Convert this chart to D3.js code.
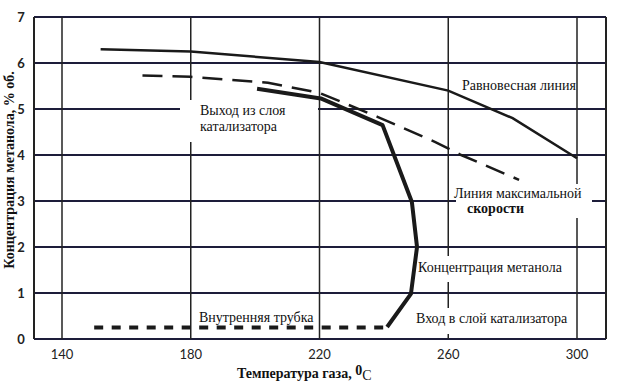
<!DOCTYPE html>
<html lang="ru">
<meta charset="utf-8">
<head>
<title>Концентрация метанола</title>
<script src="https://d3js.org/d3.v7.min.js"></script>
<style>
  body { margin: 0; background: #fff; }
  .lbl { font-family: "Liberation Serif", "Times New Roman", serif; font-size: 14px; fill: #111; }
  .tick { font-family: Lato, "DejaVu Sans", sans-serif; font-size: 13px; fill: #222; }
  .title { font-family: "Liberation Serif", serif; font-size: 14px; font-weight: bold; fill: #111; }
</style>
</head>
<body>
<script>
var width = 625, height = 385;

// x ticks / y ticks
var xTicks = [140, 180, 220, 260, 300];
var yTicks = [0, 1, 2, 3, 4, 5, 6, 7];

// равновесная линия
var eqT = [152, 180, 220, 260, 280, 300];
var eqC = [6.30, 6.25, 6.02, 5.40, 4.80, 3.93];

// линия максимальной скорости
var maxT = [165, 180, 204, 220, 238, 256, 264, 282];
var maxC = [5.73, 5.70, 5.57, 5.35, 4.83, 4.28, 4.00, 3.46];

// концентрация метанола
var concT = [200.6, 220.4, 239.6, 248.7, 250.3, 248.4, 241];
var concC = [5.44, 5.23, 4.65, 2.98, 2.00, 0.98, 0.26];

// внутренняя трубка
var tubeT = [150, 240];
var tubeC = [0.25, 0.25];

var x = d3.scaleLinear().domain([140, 300]).range([62, 577]);
var y = d3.scaleLinear().domain([0, 7]).range([339, 17]);
var left = 34, right = 606;

var svg = d3.select("body").append("svg")
    .attr("width", width)
    .attr("height", height);

// grid
svg.selectAll(".hgrid").data(yTicks).enter().append("line")
    .attr("x1", left).attr("x2", right)
    .attr("y1", function(d) { return y(d); })
    .attr("y2", function(d) { return y(d); })
    .style("stroke", "#1d1d3a").style("stroke-width", 2);

svg.selectAll(".vgrid").data(xTicks).enter().append("line")
    .attr("x1", function(d) { return x(d); })
    .attr("x2", function(d) { return x(d); })
    .attr("y1", y(7)).attr("y2", y(0))
    .style("stroke", "#222").style("stroke-width", 1.5);

// frame sides
svg.append("line").attr("x1", left).attr("x2", left).attr("y1", y(7)).attr("y2", y(0))
    .style("stroke", "#222").style("stroke-width", 2);
svg.append("line").attr("x1", right).attr("x2", right).attr("y1", y(7)).attr("y2", y(0))
    .style("stroke", "#222").style("stroke-width", 2);

// white patches behind labels
var boxes = [[180, 100, 138, 42], [456, 184, 136, 34], [413, 256, 148, 26], [410, 308, 162, 26]];
svg.selectAll(".box").data(boxes).enter().append("rect")
    .attr("x", function(d) { return d[0]; })
    .attr("y", function(d) { return d[1]; })
    .attr("width", function(d) { return d[2]; })
    .attr("height", function(d) { return d[3]; })
    .style("fill", "#fff");

var line = d3.line().x(function(d) { return x(d[0]); }).y(function(d) { return y(d[1]); });

svg.append("path").datum(d3.zip(eqT, eqC)).attr("d", line)
    .style("fill", "none").style("stroke", "#1a1a1a").style("stroke-width", 2.5);

svg.append("path").datum(d3.zip(maxT, maxC)).attr("d", line)
    .style("fill", "none").style("stroke", "#1a1a1a").style("stroke-width", 2.5)
    .style("stroke-dasharray", "20,10");

svg.append("path").datum(d3.zip(concT, concC)).attr("d", line)
    .style("fill", "none").style("stroke", "#1a1a1a").style("stroke-width", 4)
    .style("stroke-linejoin", "round");

svg.append("path").datum(d3.zip(tubeT, tubeC)).attr("d", line)
    .style("fill", "none").style("stroke", "#1a1a1a").style("stroke-width", 4)
    .style("stroke-dasharray", "9,8.5");

// tick labels
svg.selectAll(".xt").data(xTicks).enter().append("text")
    .attr("class", "tick")
    .attr("x", function(d) { return x(d); })
    .attr("y", 359)
    .attr("text-anchor", "middle")
    .text(function(d) { return d; });

svg.selectAll(".yt").data(yTicks).enter().append("text")
    .attr("class", "tick")
    .style("font-weight", "bold")
    .attr("x", 21)
    .attr("y", function(d) { return y(d) + 5; })
    .attr("text-anchor", "middle")
    .text(function(d) { return d; });

// axis titles
var xt = svg.append("text").attr("class", "title")
    .attr("x", 237).attr("y", 378);
xt.append("tspan").text("Температура газа, ");
xt.append("tspan").attr("dy", -3).text("0");
xt.append("tspan").attr("dy", 5).style("font-weight", "normal").text("C");

svg.append("text").attr("class", "title")
    .attr("transform", "translate(14,170) rotate(-90)")
    .attr("text-anchor", "middle")
    .text("Концентрация метанола, % об.");

// labels on the plot
var labels = [
  {t: "Равновесная линия", x: 462, y: 90},
  {t: "Выход из слоя", x: 200, y: 115},
  {t: "катализатора", x: 200, y: 131},
  {t: "Линия максимальной", x: 454, y: 198},
  {t: "Концентрация метанола", x: 418, y: 272},
  {t: "Вход в слой катализатора", x: 416, y: 323},
  {t: "Внутренняя трубка", x: 199, y: 322}
];
svg.selectAll(".lbl").data(labels).enter().append("text")
    .attr("class", "lbl")
    .attr("x", function(d) { return d.x; })
    .attr("y", function(d) { return d.y; })
    .text(function(d) { return d.t; });

svg.append("text").attr("class", "lbl")
    .style("font-weight", "bold")
    .attr("x", 467).attr("y", 213)
    .text("скорости");
</script>
</body>
</html>
